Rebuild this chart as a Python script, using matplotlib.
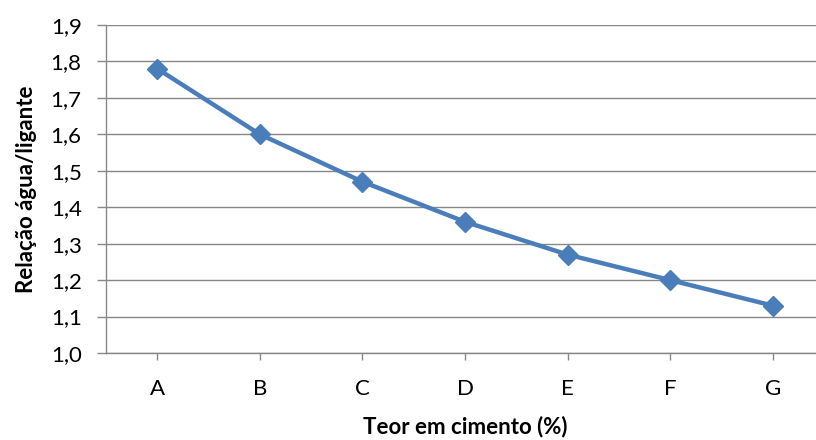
import matplotlib

matplotlib.use("Agg")
import matplotlib.pyplot as plt
from matplotlib.ticker import FuncFormatter, MultipleLocator

plt.rcParams["font.family"] = ["Lato", "DejaVu Sans"]

categorias = ["A", "B", "C", "D", "E", "F", "G"]
relacao = [1.78, 1.60, 1.47, 1.36, 1.27, 1.20, 1.13]

LINE_COLOR = "#4A7EBB"
GRID_COLOR = "#878787"


def main():
    fig = plt.figure(figsize=(8.16, 4.4), dpi=100)
    ax = fig.add_axes([0.1299, 0.1977, 0.880, 0.7455])

    x = list(range(len(categorias)))
    ax.plot(x, relacao, color=LINE_COLOR, linewidth=3.2, marker="D",
            markersize=10, markeredgecolor=LINE_COLOR, zorder=3)

    ax.set_xlim(-0.5, len(categorias) - 0.5)
    ax.set_ylim(1.0, 1.9)
    ax.set_xticks(x)
    ax.set_xticklabels(categorias)
    ax.yaxis.set_major_locator(MultipleLocator(0.1))
    ax.yaxis.set_major_formatter(FuncFormatter(lambda v, _: f"{v:.1f}".replace(".", ",")))

    ax.grid(axis="y", color=GRID_COLOR, linewidth=1.0)
    ax.set_axisbelow(True)
    for side in ("top", "right"):
        ax.spines[side].set_visible(False)
    for side in ("left", "bottom"):
        ax.spines[side].set_color(GRID_COLOR)
        ax.spines[side].set_linewidth(1.0)

    ax.tick_params(axis="y", length=6.5, width=1.0, color=GRID_COLOR, labelsize=16, pad=11)
    ax.tick_params(axis="x", length=5, width=1.0, color=GRID_COLOR, labelsize=16, pad=14)

    ax.set_xlabel("Teor em cimento (%)", fontsize=16, fontweight="bold", labelpad=12)
    ax.set_ylabel("Relação água/ligante", fontsize=16, fontweight="bold", labelpad=10)

    fig.savefig("out.png", dpi=100)
    plt.close(fig)


if __name__ == "__main__":
    main()
